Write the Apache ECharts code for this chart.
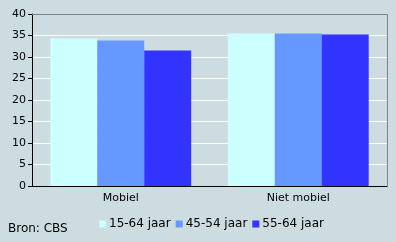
<!DOCTYPE html>
<html><head><meta charset="utf-8">
<script src="https://cdn.jsdelivr.net/npm/echarts@6/dist/echarts.min.js"></script>
<style>html,body{margin:0;padding:0;background:#CDDCE0;}#c{width:396px;height:242px;}</style>
</head><body><div id="c"></div>
<script>
const categories = ['Mobiel', 'Niet mobiel'];
const seriesNames = ['15-64 jaar', '45-54 jaar', '55-64 jaar'];
const s1564 = [34.3, 35.45];
const s4554 = [33.85, 35.45];
const s5564 = [31.5, 35.25];
const colors = ['#CCFFFF', '#6699FF', '#3333FF'];
const font = 'DejaVu Sans, Verdana, sans-serif';
const chart = echarts.init(document.getElementById('c'));
const vals = [s1564, s4554, s5564];
chart.setOption({
  backgroundColor: '#CDDCE0',
  animation: false,
  grid: {left: 32, right: 9, top: 14, bottom: 56, containLabel: false},
  legend: {
    data: seriesNames, left: 94, top: 213, itemWidth: 7, itemHeight: 7, itemGap: 5,
    icon: 'rect', textStyle: {fontFamily: font, fontSize: 12, color: '#000', padding: [0, 0, 0, -2]},
  },
  graphic: [
    {type: 'text', left: 8, top: 223, style: {text: 'Bron: CBS', font: '12px ' + font, fill: '#000'}},
    {type: 'line', shape: {x1: 32, y1: 14.5, x2: 387.5, y2: 14.5}, style: {stroke: '#808080', lineWidth: 1}, z: 10},
    {type: 'line', shape: {x1: 387.5, y1: 14.5, x2: 387.5, y2: 186}, style: {stroke: '#808080', lineWidth: 1}, z: 10}
  ],
  xAxis: {
    type: 'category', data: categories,
    axisLine: {lineStyle: {color: '#000'}}, axisTick: {show: false},
    axisLabel: {fontFamily: font, fontSize: 11, color: '#000', margin: 7}
  },
  yAxis: {
    type: 'value', min: 0, max: 40, interval: 5,
    axisLine: {show: true, lineStyle: {color: '#000'}}, axisTick: {show: true, length: 4, lineStyle: {color: '#000'}},
    splitLine: {lineStyle: {color: '#FFFFFF', width: 1}},
    axisLabel: {fontFamily: font, fontSize: 11, color: '#000', margin: 6}
  },
  series: seriesNames.map((n, i) => ({
    name: n, type: 'bar', data: vals[i], barGap: '0%', barCategoryGap: '20.6%',
    itemStyle: {color: colors[i]}
  }))
});
</script></body></html>
